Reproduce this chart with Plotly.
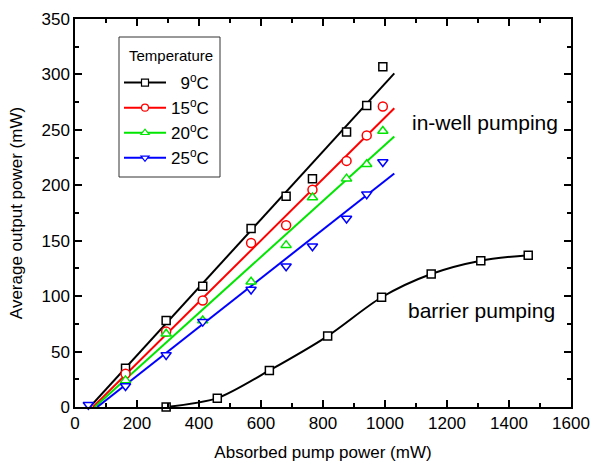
import plotly.graph_objects as go

# Absorbed pump power (mW) at which the in-well pumping points were measured
x_inwell = [163, 294, 412, 568, 681, 766, 876, 941, 993]

# Average output power (mW) for each heat-sink temperature
p_9C = [35, 78, 109, 161, 190, 206, 248, 272, 307]
p_15C = [30, 68, 96, 148, 164, 196, 222, 245, 271]
p_20C = [24, 66, 78, 113, 146, 189, 206, 219, 249]
x_25C = [43] + x_inwell
p_25C = [2, 19, 47, 77, 106, 127, 145, 170, 192, 221]

# Linear fits: threshold (zero-output crossing) and the value at the fit's end
fit_threshold = [48, 58, 64, 72]
fit_end_x = 1030
fit_end_y = [301, 269.5, 244, 210.7]

# Barrier pumping at 9 C
x_barrier = [294, 459, 627, 815, 989, 1149, 1309, 1462]
p_barrier = [0, 8, 33, 64, 99, 120, 132, 137]

labels = ["\u20079<sup>o</sup>C", "15<sup>o</sup>C", "20<sup>o</sup>C", "25<sup>o</sup>C"]
colors = ["#000000", "#ff0000", "#00e600", "#0000ff"]
symbols = ["square", "circle", "triangle-up", "triangle-down"]
sizes = [8, 9, 9, 9]
xs = [x_inwell, x_inwell, x_inwell, x_25C]
ys = [p_9C, p_15C, p_20C, p_25C]

FONT = "Liberation Sans, Arial, sans-serif"

# plot-area geometry in pixels (used to place the legend frame)
W, H = 593, 465
ML, MR, MT, MB = 75, 22, 19, 58
PW, PH = W - ML - MR, H - MT - MB


def px_x(px):
    return (px - ML) / PW


def px_y(py):
    return (H - MB - py) / PH


fig = go.Figure()

# fitted lines
for i in range(4):
    fig.add_trace(go.Scatter(
        x=[fit_threshold[i], fit_end_x], y=[0, fit_end_y[i]],
        mode="lines", line=dict(color=colors[i], width=2),
        showlegend=False, hoverinfo="skip"))

# barrier pumping curve
fig.add_trace(go.Scatter(
    x=x_barrier, y=p_barrier, mode="lines+markers",
    line=dict(color="black", width=2, shape="spline", smoothing=0.8),
    marker=dict(symbol="square", size=8, color="white",
                line=dict(color="black", width=1.5)),
    showlegend=False, cliponaxis=False))

# measured points
for i in range(4):
    fig.add_trace(go.Scatter(
        x=xs[i], y=ys[i], mode="markers",
        marker=dict(symbol=symbols[i], size=sizes[i], color="white",
                    line=dict(color=colors[i], width=1.5)),
        showlegend=False, cliponaxis=False))

# legend entries (line + marker)
for i in range(4):
    fig.add_trace(go.Scatter(
        x=[None], y=[None], mode="lines+markers", name=labels[i],
        line=dict(color=colors[i], width=2),
        marker=dict(symbol=symbols[i], size=7, color="white",
                    line=dict(color=colors[i], width=1.2))))

# legend frame and heading
fig.add_shape(type="rect", xref="paper", yref="paper",
              x0=px_x(119), x1=px_x(220), y0=px_y(177), y1=px_y(37),
              line=dict(color="#333333", width=1), fillcolor="white", layer="below")
fig.add_annotation(xref="paper", yref="paper", x=px_x(127), y=px_y(55),
                   xanchor="left", yanchor="middle", text="Temperature", showarrow=False,
                   font=dict(family=FONT, size=15, color="black"))

fig.add_annotation(x=1322, y=257, text="in-well pumping", showarrow=False,
                   font=dict(family=FONT, size=21, color="black"))
fig.add_annotation(x=1310, y=87.5, text="barrier pumping", showarrow=False,
                   font=dict(family=FONT, size=21, color="black"))

axis_common = dict(
    showline=True, linecolor="black", linewidth=1.5, mirror="ticks",
    ticks="inside", ticklen=7, tickwidth=1.5, tickcolor="black",
    showgrid=False, zeroline=False, automargin=False,
    tickfont=dict(family=FONT, size=17, color="black"),
)

fig.update_xaxes(
    range=[0, 1600], dtick=200, tick0=0,
    minor=dict(ticks="inside", ticklen=4, dtick=100, tickcolor="black", tickwidth=1.5),
    title=dict(text="Absorbed pump power (mW)", standoff=14,
               font=dict(family=FONT, size=17, color="black")),
    **axis_common)
fig.update_yaxes(
    range=[0, 350], dtick=50, tick0=0,
    minor=dict(ticks="inside", ticklen=4, dtick=25, tickcolor="black", tickwidth=1.5),
    title=dict(text="Average output power (mW)",
               font=dict(family=FONT, size=17, color="black")),
    **axis_common)

fig.update_layout(
    width=W, height=H,
    margin=dict(l=ML, r=MR, t=MT, b=MB),
    paper_bgcolor="white", plot_bgcolor="white",
    font=dict(family=FONT, color="black"),
    legend=dict(
        x=px_x(119), y=px_y(65), xanchor="left", yanchor="top",
        bgcolor="rgba(0,0,0,0)", borderwidth=0,
        itemwidth=42,
        font=dict(family=FONT, size=17, color="black"),
    ),
)

fig.write_html("out.html")
